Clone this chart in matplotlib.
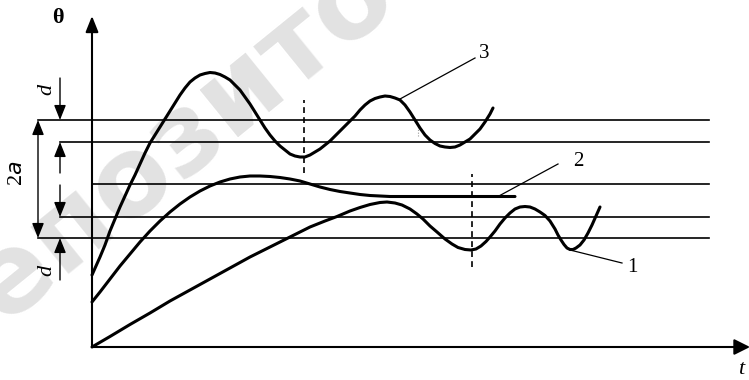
import matplotlib
matplotlib.use('Agg')
import matplotlib.pyplot as plt

plt.rcParams.update({
    'font.family': ['Liberation Serif', 'DejaVu Serif'],
})

# ---------------------------------------------------------------------------
# Data (t = time, theta = controlled value; origin at the axes corner)
# ---------------------------------------------------------------------------
# tolerance band levels: a+d, a, 0 (set point), -a, -(a+d)
level_theta = [227, 205, 163, 130, 109]
level_t_start = [-54, -32, 0, -32, -54]
level_t_end = 617

# curve 1: slow rise, then oscillation below the set point
curve1_t = [0, 18, 38, 58, 78, 98, 118, 138, 158, 178, 198, 218, 233, 245,
            258, 268, 278, 288, 295, 303, 310, 318, 325, 331, 338, 345, 353,
            360, 366, 373, 379, 384, 389, 394, 398, 403, 408, 413, 418, 423,
            428, 433, 438, 443, 448, 453, 458, 463, 466, 469, 472, 475, 478,
            481, 484, 488, 492, 496, 500, 504, 508]
curve1_theta = [0, 10.5, 22.5, 34, 46, 57, 68, 79, 90, 100, 110, 120, 126,
                130.5, 136, 139.5, 142.5, 144.5, 145, 144, 142, 138, 133, 128,
                121, 115, 108, 103, 99.5, 97.5, 97, 98, 101, 105.5, 110, 116,
                123, 129, 134, 138, 140, 140.5, 140, 138, 135, 131.5, 126, 118,
                112, 107, 102.5, 99, 97.5, 97.5, 99, 102, 107, 114, 122, 131,
                140]

# curve 2: aperiodic approach to the set point
curve2_t = [0, 8, 18, 28, 38, 48, 58, 68, 78, 88, 98, 108, 118, 128, 138,
            148, 158, 168, 178, 188, 198, 208, 218, 228, 238, 248, 258, 268,
            278, 288, 298, 423]
curve2_theta = [45, 55, 68, 81, 93, 105, 116, 126, 135, 143, 150, 156, 161,
                165, 168, 170, 171, 171, 170.5, 169.5, 168, 166, 163, 160,
                157.5, 155.5, 154, 152.5, 151.5, 151, 150.5, 150.5]

# curve 3: fast rise, oscillation above the set point
curve3_t = [0, 4, 8, 13, 18, 23, 28, 33, 38, 43, 48, 53, 58, 63, 68, 73, 78,
            83, 88, 93, 98, 103, 108, 113, 118, 123, 128, 133, 138, 143, 148,
            153, 158, 163, 168, 173, 178, 183, 188, 193, 198, 203, 208, 213,
            218, 223, 228, 233, 238, 243, 248, 253, 258, 263, 268, 273, 278,
            283, 288, 293, 298, 303, 308, 313, 318, 323, 328, 333, 338, 343,
            348, 353, 358, 363, 368, 373, 378, 383, 388, 393, 398, 401]
curve3_theta = [72, 81, 90, 102, 116, 128, 140, 151, 162, 172, 183, 194, 204,
                212, 220, 228, 236, 244, 252, 259, 265, 269, 272, 273.5,
                274.5, 274, 272.5, 270, 267, 262, 257, 250, 243, 235, 227,
                219, 212, 206, 201, 197, 193, 191, 190, 190, 192, 195, 198,
                202, 206, 211, 216, 221, 226, 231, 237, 242, 246, 248.5, 250,
                251, 250.5, 249, 247, 242, 235, 227, 219, 212, 207, 203.5,
                201, 200, 199.5, 200, 202, 205, 208, 213, 218, 225, 233, 239]

# dashed markers: (t, theta_low, theta_high)
dashed_marks = [(212, 174, 247), (380, 80, 173)]

# callouts: label, point on curve, end of leader, label position
callout_labels = ['3', '2', '1']
callout_from = [(308, 248), (406, 150.5), (478, 97)]
callout_to = [(383, 289), (466, 183), (530, 84)]
callout_text = [(392, 294), (486, 186), (540, 80)]

# ---------------------------------------------------------------------------
fig = plt.figure(figsize=(7.49, 3.80), dpi=100)
ax = fig.add_axes([0, 0, 1, 1])
ax.set_xlim(-92, 657)
ax.set_ylim(-33, 347)
ax.axis('off')

# scanner watermark
ax.text(-152, -24, 'репозито', family='DejaVu Sans', fontweight='bold',
        fontsize=80, color='#e2e2e2', rotation=39, rotation_mode='anchor',
        ha='left', va='baseline', zorder=0)

ink = '#000000'

# tolerance levels
for th, t0 in zip(level_theta, level_t_start):
    ax.plot([t0, level_t_end], [th, th], color=ink, lw=1.2, zorder=2)

# coordinate axes
ax.annotate('', xy=(0, 331), xytext=(0, 0), annotation_clip=False,
            arrowprops=dict(arrowstyle='-|>,head_length=0.8,head_width=0.32',
                            mutation_scale=12, lw=1.5, color=ink,
                            shrinkA=0, shrinkB=0), zorder=3)
ax.annotate('', xy=(658, 0), xytext=(0, 0), annotation_clip=False,
            arrowprops=dict(arrowstyle='-|>,head_length=0.8,head_width=0.4',
                            mutation_scale=12, lw=1.5, color=ink,
                            shrinkA=0, shrinkB=0), zorder=3)
ax.text(-34, 329, 'θ', fontsize=16, fontweight='bold', ha='center',
        va='center')
ax.text(649, -23, 't', fontsize=16, style='italic', ha='center',
        va='center')

# dimension arrows for d and 2a
dim_style = dict(arrowstyle='-|>,head_length=0.75,head_width=0.3',
                 mutation_scale=12, lw=1.0, color=ink, shrinkA=0, shrinkB=0)
x_d = level_t_start[1]
ax.annotate('', xy=(x_d, level_theta[0]), xytext=(x_d, 269),
            arrowprops=dim_style)
ax.annotate('', xy=(x_d, level_theta[1]), xytext=(x_d, 174),
            arrowprops=dim_style)
ax.annotate('', xy=(x_d, level_theta[3]), xytext=(x_d, 162),
            arrowprops=dim_style)
ax.annotate('', xy=(x_d, level_theta[4]), xytext=(x_d, 67),
            arrowprops=dim_style)
x_a = level_t_start[0]
ax.annotate('', xy=(x_a, level_theta[0]), xytext=(x_a, level_theta[4]),
            arrowprops=dict(dim_style, arrowstyle='<|-|>,head_length=0.75,'
                            'head_width=0.3'))
ax.text(-45, 258, 'd', fontsize=16, style='italic', rotation=90,
        ha='center', va='center')
ax.text(-45, 77, 'd', fontsize=16, style='italic', rotation=90,
        ha='center', va='center')
ax.text(-75, 174, '2$\\mathit{a}$', fontsize=16, rotation=90,
        ha='center', va='center')

# transient curves
for tt, th in ((curve1_t, curve1_theta), (curve2_t, curve2_theta),
               (curve3_t, curve3_theta)):
    ax.plot(tt, th, color=ink, lw=2.2, solid_joinstyle='round',
            solid_capstyle='round', zorder=4)

# dashed markers
for t, lo, hi in dashed_marks:
    ax.plot([t, t], [lo, hi], color=ink, lw=1.2, ls=(0, (3.5, 2.5)),
            zorder=3)
ax.plot([326, 326], [211, 225], color='#9a9a9a', lw=0.8, ls=(0, (1, 1.5)),
        zorder=3)

# callouts
for lab, p0, p1, pt in zip(callout_labels, callout_from, callout_to,
                           callout_text):
    ax.plot([p0[0], p1[0]], [p0[1], p1[1]], color=ink, lw=0.9, zorder=4)
    ax.text(pt[0], pt[1], lab, fontsize=15, ha='center', va='center')

fig.savefig('out.png', dpi=100)
